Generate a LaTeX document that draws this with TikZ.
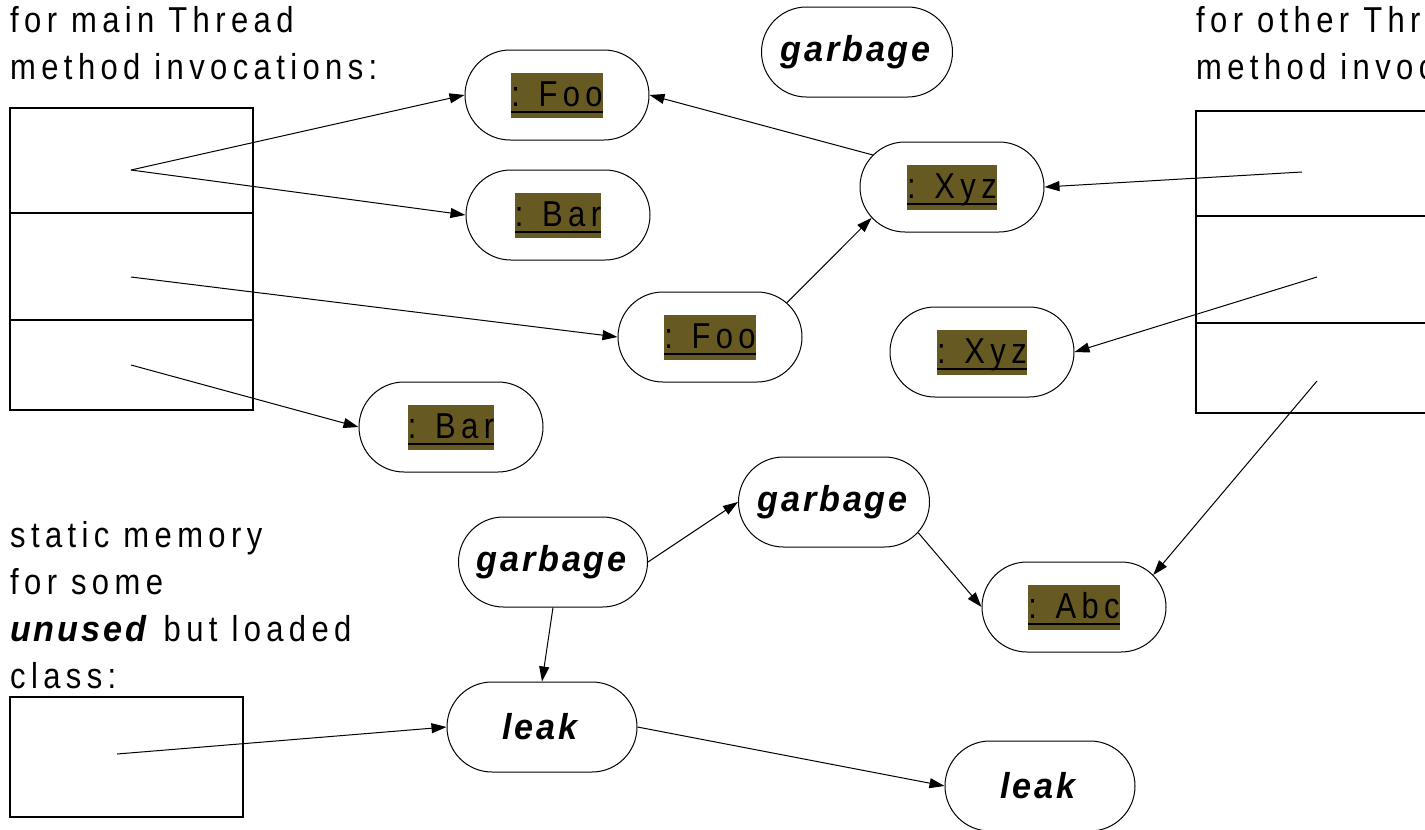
\documentclass[tikz,border=0pt]{standalone}
\usepackage{fontspec}
\setmainfont{Liberation Sans}[FakeStretch=0.86, LetterSpace=15,
  BoldItalicFeatures={FakeStretch=0.95, LetterSpace=8}]
\usepackage{tikz}
\usetikzlibrary{shapes.misc,arrows.meta}
\definecolor{objfill}{RGB}{102,89,34}
\newcommand{\objname}[1]{{\fboxsep=0pt\colorbox{objfill}{\setbox0\hbox{#1}\rule[-11pt]{0pt}{45pt}\rlap{\rule[-6pt]{\wd0}{2pt}}\box0}}}
\newcommand{\bi}[1]{\textbf{\textit{#1}}}
\tikzstyle{objnode}=[rounded rectangle, draw, line width=1pt, inner sep=0pt, minimum width=184pt, minimum height=90pt]
\tikzstyle{txt}=[align=left, inner sep=0pt, anchor=base west]
\tikzstyle{frame}=[line width=1.3pt]
\tikzstyle{ref}=[-{Triangle[length=15pt,width=10pt]}, line width=1pt]

\begin{document}
\begin{tikzpicture}[x=1pt, y=-1pt, every node/.style = {font=\fontsize{36}{47}\selectfont}]

\useasboundingbox (0,0) rectangle (1425,830);
\clip (0,0) rectangle (1425,830);

% base of a text block is its last line
\node[txt] (maintxt) at (10,79) {for main Thread\\method invocations:};
\node[txt] (othertxt) at (1196,79) {for other Thread\\method invocations:};
\node[txt] (statictxt) at (10,688) {static memory\\for some\\\bi{unused} but loaded\\class:};

% stack of main thread
\draw[frame] (10,108) rectangle (253,410);
\draw[frame] (10,213) -- (253,213);
\draw[frame] (10,320) -- (253,320);
\coordinate (m1) at (131,170);
\coordinate (m2) at (131,277);
\coordinate (m3) at (131,365);

% stack of other thread
\draw[frame] (1196,111) rectangle (1450,413);
\draw[frame] (1196,216) -- (1450,216);
\draw[frame] (1196,323) -- (1450,323);
\coordinate (o1) at (1302,172);
\coordinate (o2) at (1317,277);
\coordinate (o3) at (1317,381);

% static memory
\draw[frame] (10,697) rectangle (243,817);
\coordinate (s1) at (117,754);

\node[objnode] (foo1) at (557,95) {\objname{: Foo}};
\node[objnode] (bar1) at (558,215) {\objname{: Bar}};
\node[objnode, minimum width=191pt] (garb1) at (857,52) {\bi{garbage}};
\node[objnode] (xyz1) at (952,187) {\objname{: Xyz}};
\node[objnode] (foo2) at (710,337) {\objname{: Foo}};
\node[objnode] (xyz2) at (982,352) {\objname{: Xyz}};
\node[objnode] (bar2) at (451,427) {\objname{: Bar}};
\node[objnode, minimum width=191pt] (garb2) at (834,502) {\bi{garbage}};
\node[objnode, minimum width=189pt] (garb3) at (553,562) {\bi{garbage}};
\node[objnode] (abc) at (1074,607) {\objname{: Abc}};
\node[objnode, minimum width=190pt] (leak1) at (542,727) {\bi{leak}};
\node[objnode, minimum width=190pt] (leak2) at (1040,786) {\bi{leak}};

\draw[ref] (m1) -- (foo1.west);
\draw[ref] (m1) -- (bar1.west);
\draw[ref] (m2) -- (foo2.west);
\draw[ref] (m3) -- (bar2.west);
\draw[ref] (foo2.24) -- (xyz1.201);
\draw[ref] (xyz1.158) -- (foo1.east);
\draw[ref] (o1) -- (xyz1.east);
\draw[ref] (o2) -- (xyz2.east);
\draw[ref] (o3) -- (abc.22);
\draw[ref] (garb3.east) -- (garb2.west);
\draw[ref] (garb2.340) -- (abc.west);
\draw[ref] (garb3.south) -- (leak1.north);
\draw[ref] (s1) -- (leak1.west);
\draw[ref] (leak1.east) -- (leak2.west);

\end{tikzpicture}
\end{document}
